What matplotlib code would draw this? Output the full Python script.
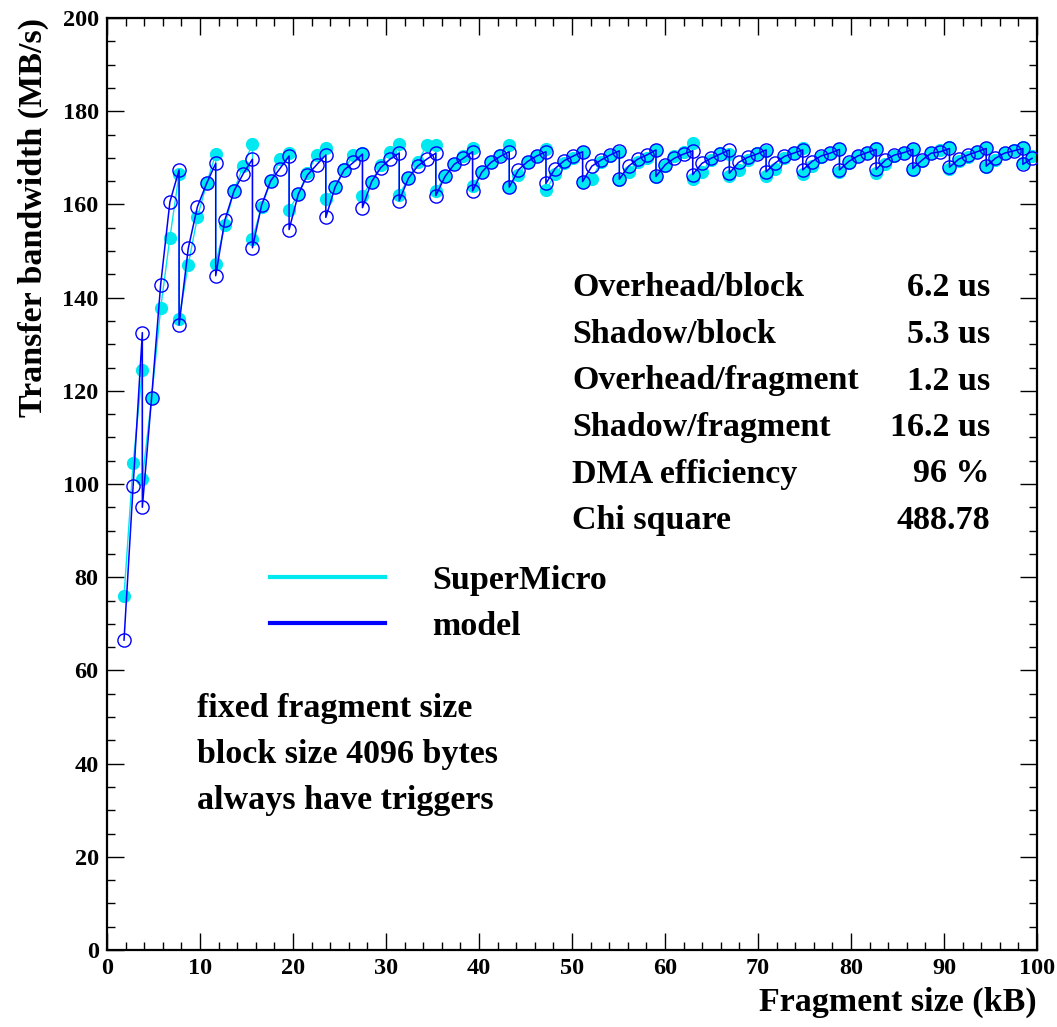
import matplotlib.pyplot as plt
from matplotlib.lines import Line2D
from matplotlib.ticker import MultipleLocator

# fragment size (kB), one row per block period (top and low share the same x)
fragment_kb = [
    1.83, 2.81, 3.80,
    3.80, 4.79, 5.77, 6.76, 7.75,
    7.75, 8.74, 9.72, 10.71, 11.69,
    11.69, 12.68, 13.66, 14.65, 15.64,
    15.64, 16.63, 17.61, 18.60, 19.58,
    19.58, 20.57, 21.55, 22.54, 23.53,
    23.53, 24.52, 25.50, 26.49, 27.47,
    27.47, 28.46, 29.44, 30.43, 31.42,
    31.42, 32.41, 33.39, 34.38, 35.36,
    35.36, 36.35, 37.33, 38.32, 39.31,
    39.31, 40.30, 41.28, 42.27, 43.25,
    43.25, 44.24, 45.22, 46.21, 47.20,
    47.20, 48.19, 49.17, 50.16, 51.14,
    51.14, 52.13, 53.11, 54.10, 55.09,
    55.09, 56.08, 57.06, 58.05, 59.03,
    59.03, 60.02, 61.00, 61.99, 62.98,
    62.98, 63.97, 64.95, 65.94, 66.92,
    66.92, 67.91, 68.89, 69.88, 70.87,
    70.87, 71.86, 72.84, 73.83, 74.81,
    74.81, 75.80, 76.78, 77.77, 78.76,
    78.76, 79.75, 80.73, 81.72, 82.70,
    82.70, 83.69, 84.67, 85.66, 86.65,
    86.65, 87.64, 88.62, 89.61, 90.59,
    90.59, 91.58, 92.56, 93.55, 94.54,
    94.54, 95.53, 96.51, 97.50, 98.48,
    98.48, 99.47,
]

supermicro = [
    76.0, 104.4, 124.5,
    101.0, 118.4, 137.7, 152.8, 166.5,
    135.5, 147.1, 157.2, 164.5, 170.8,
    147.3, 155.6, 163.0, 168.2, 173.0,
    152.6, 159.5, 165.0, 169.7, 171.1,
    158.8, 162.2, 166.7, 170.6, 172.2,
    161.1, 163.7, 167.5, 170.6, 171.0,
    161.9, 164.9, 168.5, 171.3, 173.0,
    162.0, 165.6, 169.0, 172.7, 172.7,
    162.9, 166.0, 168.6, 170.4, 172.2,
    163.9, 166.9, 169.0, 170.6, 172.7,
    163.7, 166.3, 169.2, 170.4, 171.8,
    163.1, 166.5, 168.8, 169.9, 171.3,
    164.9, 165.4, 169.2, 170.3, 171.3,
    165.2, 167.0, 169.2, 169.9, 171.7,
    165.8, 168.2, 170.4, 171.3, 173.1,
    165.4, 167.0, 169.5, 171.0, 170.8,
    166.0, 167.3, 169.5, 171.0, 171.5,
    166.2, 167.7, 170.0, 171.0, 172.0,
    166.5, 168.2, 170.2, 171.0, 171.8,
    167.0, 168.8, 170.4, 171.1, 172.0,
    166.8, 168.7, 170.4, 171.1, 171.8,
    167.4, 169.3, 171.1, 171.7, 172.4,
    167.7, 169.4, 170.2, 171.3, 172.2,
    168.1, 169.5, 171.0, 171.7, 172.4,
    168.9, 170.4,
]

model = [
    66.5, 99.6, 132.5,
    95.0, 118.4, 142.8, 160.5, 167.4,
    134.1, 150.6, 159.5, 164.5, 168.8,
    144.7, 156.7, 162.9, 166.6, 169.7,
    150.7, 159.9, 165.1, 167.7, 170.4,
    154.6, 162.2, 166.3, 168.5, 170.6,
    157.2, 163.7, 167.4, 169.0, 170.8,
    159.3, 164.9, 167.9, 169.7, 171.0,
    160.8, 165.6, 168.2, 169.7, 171.0,
    161.9, 166.0, 168.6, 169.9, 171.3,
    162.9, 166.9, 169.0, 170.3, 171.3,
    163.7, 167.4, 169.2, 170.4, 171.3,
    164.5, 167.7, 169.4, 170.4, 171.3,
    164.9, 168.2, 169.5, 170.6, 171.5,
    165.4, 168.2, 169.7, 170.6, 171.7,
    166.0, 168.5, 169.9, 170.8, 171.5,
    166.4, 168.8, 169.9, 170.8, 171.7,
    166.7, 169.0, 170.1, 170.8, 171.7,
    167.0, 168.9, 170.3, 171.0, 171.7,
    167.4, 169.2, 170.4, 171.0, 171.8,
    167.4, 169.2, 170.4, 171.1, 171.8,
    167.5, 169.5, 170.6, 171.1, 171.8,
    167.7, 169.5, 171.0, 171.3, 172.0,
    168.0, 169.7, 170.6, 171.3, 172.0,
    168.2, 169.9, 171.0, 171.5, 172.0,
    168.6, 169.9,
]

stat_names = ["Overhead/block", "Shadow/block", "Overhead/fragment",
              "Shadow/fragment", "DMA efficiency", "Chi square"]
stat_values = ["6.2 us", "5.3 us", "1.2 us", "16.2 us", "96 %", "488.78"]
notes = ["fixed fragment size", "block size 4096 bytes", "always have triggers"]

CYAN = "#00E8F0"
BLUE = "#0000FF"
FONT = "Liberation Serif"
FS = 24.5

W, H = 1057, 1027


def fpos(x, y):
    # pixel position (from top-left) -> figure fraction
    return x / W, 1 - y / H


fig = plt.figure(figsize=(W / 100, H / 100), dpi=100)
ax = fig.add_axes([107 / W, 77 / H, 930 / W, 932 / H])

ax.plot(fragment_kb, supermicro, color=CYAN, lw=1.0, marker="o", ms=8.5,
        mfc=CYAN, mec=CYAN, zorder=2)
ax.plot(fragment_kb, model, color=BLUE, lw=1.1, marker="o", ms=9.5,
        mfc="none", mec=BLUE, mew=1.0, zorder=3)

ax.set_xlim(0, 100)
ax.set_ylim(0, 200)
ax.xaxis.set_major_locator(MultipleLocator(10))
ax.xaxis.set_minor_locator(MultipleLocator(2))
ax.yaxis.set_major_locator(MultipleLocator(20))
ax.yaxis.set_minor_locator(MultipleLocator(5))
ax.tick_params(which="both", direction="in", top=True, right=True, width=1.0)
ax.tick_params(axis="x", which="major", length=12, pad=6)
ax.tick_params(axis="x", which="minor", length=6)
ax.tick_params(axis="y", which="major", length=12, pad=6)
ax.tick_params(axis="y", which="minor", length=6)
for sp in ax.spines.values():
    sp.set_linewidth(1.6)
for lab in ax.get_xticklabels() + ax.get_yticklabels():
    lab.set_fontfamily(FONT)
    lab.set_fontweight("bold")
    lab.set_fontsize(17.5)

fig.text(*fpos(1037, 1002), "Fragment size (kB)", ha="right", va="center",
         fontfamily=FONT, fontweight="bold", fontsize=FS)
fig.text(*fpos(33, 18), "Transfer bandwidth (MB/s)", ha="center", va="top",
         rotation=90, fontfamily=FONT, fontweight="bold", fontsize=FS)

for i, (name, val) in enumerate(zip(stat_names, stat_values)):
    y = 288 + i * 46.5
    fig.text(*fpos(572, y), name, ha="left", va="center",
             fontfamily=FONT, fontweight="bold", fontsize=FS)
    fig.text(*fpos(990, y), val, ha="right", va="center",
             fontfamily=FONT, fontweight="bold", fontsize=FS)

for i, note in enumerate(notes):
    fig.text(*fpos(197, 708 + i * 46.5), note, ha="left", va="center",
             fontfamily=FONT, fontweight="bold", fontsize=FS)

handles = [Line2D([], [], color=CYAN, lw=3), Line2D([], [], color=BLUE, lw=3)]
ax.legend(handles, ["SuperMicro", "model"], loc="upper left",
          bbox_to_anchor=fpos(270, 565), bbox_transform=fig.transFigure,
          frameon=False, borderpad=0, borderaxespad=0, handlelength=3.38,
          handletextpad=1.38, labelspacing=0.43,
          prop={"family": FONT, "weight": "bold", "size": FS})

fig.savefig("out.png", dpi=100)
